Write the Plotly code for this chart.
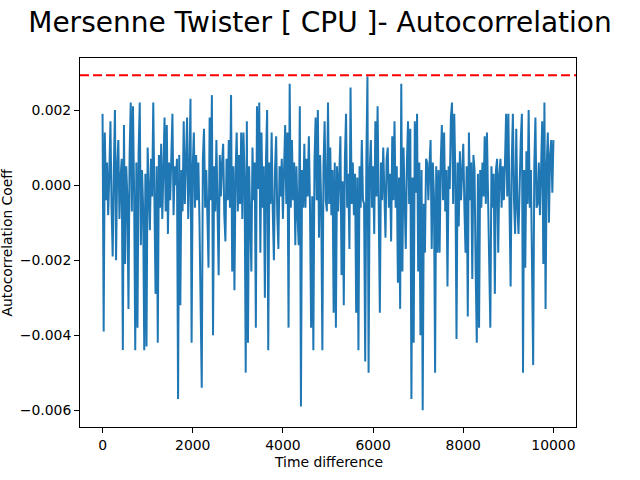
import plotly.graph_objects as go

# lag axis and autocorrelation values (in units of 1e-4)
lags = list(range(0, 10001, 25))
acf_e4 = [
    19, -39, 14, -4, 6, -8, 3, 17, -6, -19,
    4, 20, -20, 5, 12, -9, 2, 7, -44, 16,
    -21, 5, -3, -33, 8, 22, -7, 21, -2, -44,
    6, -38, 9, 22, -16, 4, -6, -44, 3, -43,
    10, -5, -12, 7, -3, 22, -8, -29, 5, -42,
    8, -6, 11, -9, 4, 18, -7, 16, -13, 6,
    -4, 9, 19, -8, 5, 0, 7, -57, 8, -32,
    4, -7, 17, -5, 6, 18, -9, 3, 23, -42,
    5, 14, -6, 8, -4, 6, -10, -28, -54, 7,
    15, -6, 4, -8, -22, 18, -4, 24, -40, 5,
    -7, 12, -5, -24, 8, -3, 6, 11, -8, -15,
    7, -4, 12, -6, 24, -23, 5, -28, 3, 14,
    -7, 8, -5, 14, -9, 14, 2, -50, 17, -42,
    5, -8, -23, 10, -4, 6, -38, 21, -1, 22,
    -18, 14, -6, 5, -30, 7, 20, -44, 6, -5,
    14, -7, -20, 4, 13, -8, -17, 5, -3, 7,
    -9, 4, 16, -5, 14, -38, 27, -6, 12, -4,
    6, -16, 5, -8, -16, 21, -59, 4, -6, 11,
    -6, 7, -3, 13, -5, -38, -3, -44, 6, 18,
    -4, 20, -14, 8, -6, -44, 5, 17, -4, -7,
    22, -5, 10, -8, 4, -34, 6, -38, 5, -7,
    4, 13, -24, 1, -32, 7, 19, -6, 3, -17,
    26, -5, 6, -8, 3, -34, 2, -44, 5, -6,
    12, -4, -5, -47, 6, 29, -50, 4, 12, -6,
    5, -13, 17, -3, 21, -18, -34, 6, -4, 10,
    -5, -14, 7, 10, -6, 3, -15, 13, -4, 17,
    -6, 5, -26, 2, -33, 27, -23, 10, -4, -17,
    6, 17, -5, 15, -57, 2, -42, 17, -2, 19,
    -23, 6, -40, 4, -60, -5, -18, 7, 6, -4,
    5, 12, -17, 6, -3, -50, 5, -18, 4, -18,
    6, 16, -4, 14, -7, 4, -27, 5, -1, 18,
    22, -5, 19, 2, -41, 6, -11, 9, -4, 5,
    11, -6, -18, 5, -35, 14, -4, 6, -25, 8,
    4, -23, -42, 3, -38, 4, -6, 6, -3, 13,
    -5, 14, -4, -16, -38, 5, -6, 3, -29, 4,
    7, -18, 3, 7, -6, 5, -4, 6, 19, -3,
    19, -5, -27, 6, 19, -4, -13, 15, -6, -13,
    5, 12, 19, -50, 4, -22, 9, -5, 20, -6,
    4, -18, -48, 5, 18, -6, -5, 6, -8, 4,
    17, -21, 22, -33, 5, 14, -10, 8, 12, -2,
    12,
]
acf = [v / 10000 for v in acf_e4]
threshold = 0.00293

font = "DejaVu Sans"

fig = go.Figure()
fig.add_trace(go.Scatter(x=lags, y=acf, mode="lines",
                         line=dict(color="#1f77b4", width=2),
                         showlegend=False))
fig.add_hline(y=threshold, line=dict(color="red", width=2, dash="9px,4px"))

# axis titles as annotations so they sit where matplotlib put them
fig.add_annotation(text="Time difference", xref="paper", yref="paper",
                   x=0.5, y=-0.094, xanchor="center", yanchor="middle",
                   showarrow=False, font=dict(family=font, size=13.9))
fig.add_annotation(text="Autocorrelation Coeff", xref="paper", yref="paper",
                   x=-0.149, y=0.5, xanchor="center", yanchor="middle",
                   textangle=-90, showarrow=False,
                   font=dict(family=font, size=13.9))

fig.update_layout(
    width=640, height=480,
    paper_bgcolor="white", plot_bgcolor="white",
    margin=dict(l=80, r=64, t=58, b=53),
    font=dict(family=font, size=13.9, color="black"),
    title=dict(text="Mersenne Twister [ CPU ]- Autocorrelation",
               x=0.5, xanchor="center", y=0.954, yanchor="middle",
               font=dict(family=font, size=28, color="black")),
    xaxis=dict(range=[-500, 10500], dtick=2000, tick0=0, tickformat="d",
               automargin=False,
               showgrid=False, zeroline=False,
               showline=True, linecolor="black", linewidth=1, mirror=True,
               ticks="outside", ticklen=5, tickcolor="black"),
    yaxis=dict(range=[-0.00645, 0.00339], dtick=0.002, tick0=0,
               tickformat=".3f", automargin=False,
               showgrid=False, zeroline=False,
               showline=True, linecolor="black", linewidth=1, mirror=True,
               ticks="outside", ticklen=5, tickcolor="black"),
)

# drop the page's default body margin so the 640x480 figure fills the window
fig.write_html("out.html", config={"displayModeBar": False},
               post_script="document.body.style.margin = '0';")
